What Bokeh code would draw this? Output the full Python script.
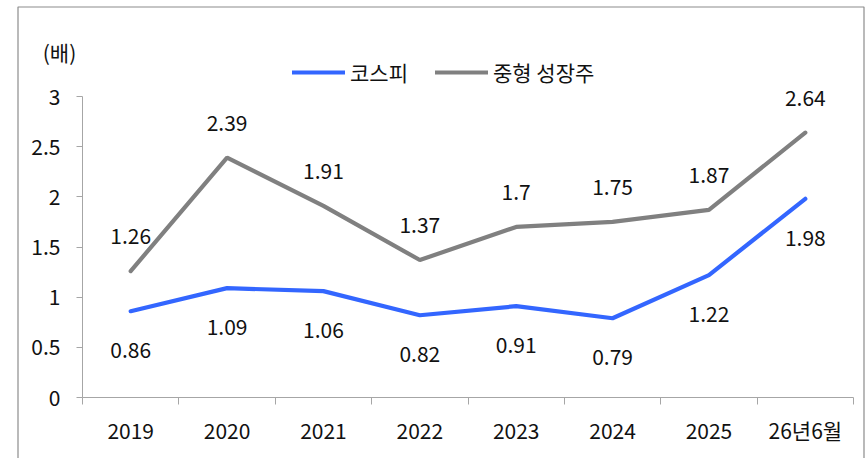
from bokeh.plotting import figure
from bokeh.models import FixedTicker, Legend, LegendItem, Label, ColumnDataSource, LinearAxis
from bokeh.core.properties import value
from bokeh.embed import file_html
from bokeh.resources import INLINE

categories = ["2019", "2020", "2021", "2022", "2023", "2024", "2025", "26년6월"]
kospi = [0.86, 1.09, 1.06, 0.82, 0.91, 0.79, 1.22, 1.98]
growth = [1.26, 2.39, 1.91, 1.37, 1.70, 1.75, 1.87, 2.64]
kospi_labels = ["0.86", "1.09", "1.06", "0.82", "0.91", "0.79", "1.22", "1.98"]
growth_labels = ["1.26", "2.39", "1.91", "1.37", "1.7", "1.75", "1.87", "2.64"]
y_ticks = [0, 0.5, 1, 1.5, 2, 2.5, 3]
y_tick_labels = ["0", "0.5", "1", "1.5", "2", "2.5", "3"]

FONT = "Noto Sans CJK KR"
FS = "21px"
BLUE = "#3366ff"
GRAY = "#808080"
AXIS = "#a6a6a6"
TXT = "#111111"

W, H = 868, 458
# pixel geometry of the plotting area (axis origin and extent)
AX_L, AX_R, AX_B, AX_T = 82.0, 853.0, 397.0, 96.0
N = len(categories)
YMAX = 3.0
sx = (AX_R - AX_L) / N
sy = (AX_B - AX_T) / YMAX
x_start, x_end = -AX_L / sx, (W - AX_L) / sx
y_start, y_end = -(H - AX_B) / sy, AX_B / sy

def px_x(px):
    return (px - AX_L) / sx

def px_y(py):
    return (AX_B - py) / sy

xs = [i + 0.5 for i in range(N)]

p = figure(width=W, height=H, x_range=(x_start, x_end), y_range=(y_start, y_end),
           output_backend="svg", toolbar_location=None,
           min_border_left=0, min_border_right=0, min_border_top=0, min_border_bottom=0,
           x_axis_type=None, y_axis_type=None)
p.outline_line_color = None
p.xgrid.visible = False
p.ygrid.visible = False

# chart border (left, top, right)
p.line([px_x(17.5), px_x(17.5), px_x(863.5), px_x(863.5)],
       [px_y(470), px_y(6.5), px_y(6.5), px_y(470)], line_color="#8c8c8c", line_width=1.2)

# y axis
yaxis = LinearAxis(fixed_location=0, bounds=(0, YMAX))
yaxis.ticker = FixedTicker(ticks=y_ticks)
yaxis.major_label_overrides = {t: l for t, l in zip(y_ticks, y_tick_labels)}
yaxis.axis_line_color = AXIS
yaxis.major_tick_line_color = AXIS
yaxis.major_tick_out = 6
yaxis.major_tick_in = 0
yaxis.minor_tick_line_color = None
yaxis.major_label_standoff = 16
yaxis.major_label_text_font = FONT
yaxis.major_label_text_font_size = FS
yaxis.major_label_text_color = TXT
p.add_layout(yaxis, "left")

# x axis
xaxis = LinearAxis(fixed_location=0, bounds=(0, N))
xaxis.ticker = FixedTicker(ticks=xs, minor_ticks=list(range(N + 1)))
xaxis.major_label_overrides = {x: c for x, c in zip(xs, categories)}
xaxis.axis_line_color = AXIS
xaxis.major_tick_line_color = None
xaxis.major_tick_out = 0
xaxis.major_tick_in = 0
xaxis.minor_tick_line_color = AXIS
xaxis.minor_tick_out = 7
xaxis.minor_tick_in = 0
xaxis.major_label_standoff = 10
xaxis.major_label_text_font = FONT
xaxis.major_label_text_font_size = FS
xaxis.major_label_text_color = TXT
p.add_layout(xaxis, "below")

src = ColumnDataSource(dict(x=xs, k=kospi, g=growth, kl=kospi_labels, gl=growth_labels))

r_k = p.line("x", "k", source=src, line_color=BLUE, line_width=4.2, line_cap="round")
r_g = p.line("x", "g", source=src, line_color=GRAY, line_width=4.2, line_cap="round")

p.text("x", "g", text="gl", source=src, y_offset=-35, text_align="center", text_baseline="middle",
       text_font=value(FONT), text_font_size=FS, text_color=TXT)
p.text("x", "k", text="kl", source=src, y_offset=39, text_align="center", text_baseline="middle",
       text_font=value(FONT), text_font_size=FS, text_color=TXT)

legend = Legend(items=[LegendItem(label="코스피", renderers=[r_k]),
                       LegendItem(label="중형 성장주", renderers=[r_g])],
                orientation="horizontal", location=(292, 371),
                padding=0, margin=0, spacing=27, glyph_width=53, glyph_height=22,
                label_height=22, label_standoff=5, label_text_font=FONT, label_text_font_size=FS,
                label_text_color=TXT, border_line_color=None, background_fill_alpha=0)
p.add_layout(legend, "center")

p.add_layout(Label(x=px_x(59), y=px_y(51), text="(배)", text_align="center", text_baseline="middle",
                   text_font=FONT, text_font_size=FS, text_color=TXT))

open("out.html", "w").write(file_html(p, INLINE))
